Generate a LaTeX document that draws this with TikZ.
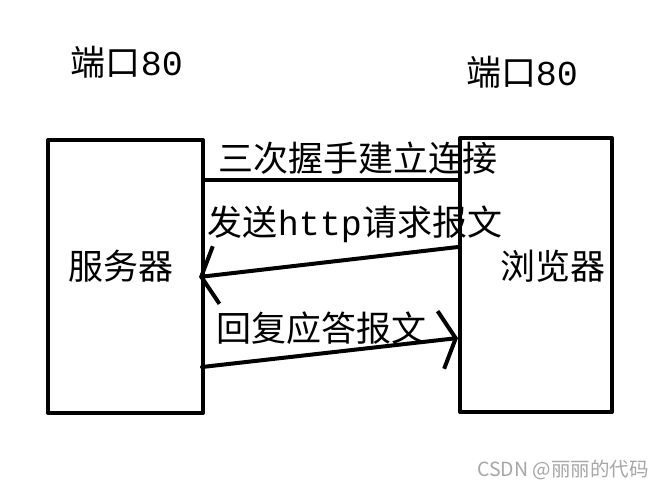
\documentclass[tikz,border=0pt]{standalone}
\usepackage{fontspec}
\setmainfont{Liberation Mono}
\newfontfamily\cjk{Noto Sans CJK SC}
\newfontfamily\wmfont{Noto Sans CJK SC}
\usetikzlibrary{arrows.meta,calc}

\begin{document}
\begin{tikzpicture}[
  x=1pt, y=-1pt,
  >={Straight Barb[length=15pt,width=58pt]},
  line cap=round,
  line join=round,
  hostbox/.style={draw, line width=4pt, inner sep=0pt},
  msg/.style={line width=4pt},
  lbl/.style={inner sep=0pt, font=\fontsize{35}{40}\selectfont}
]
  \useasboundingbox (0,0) rectangle (662,488);

  % Hosts
  \node[hostbox, minimum width=155pt, minimum height=273pt] (server) at (125.5,276.5) {};
  \node[hostbox, minimum width=152pt, minimum height=274pt] (browser) at (536,275) {};

  % Host names and ports
  \node[lbl] (serverName) at (121,266) {\cjk 服务器};
  \node[lbl] (browserName) at (553,266) {\cjk 浏览器};
  \node[lbl] (serverPort) at (127,62) {{\cjk 端口}80};
  \node[lbl] (browserPort) at (522,72) {{\cjk 端口}80};

  % Connector end points on the box sides
  \coordinate (s1) at (server.east |- 0,180);
  \coordinate (b1) at (browser.west |- 0,180);
  \coordinate (b2) at (browser.west |- 0,247);
  \coordinate (s2) at ($(server.east |- 0,277)+(-6,0)$);
  \coordinate (s3) at ($(server.east |- 0,367)+(-3,0)$);
  \coordinate (b3) at (browser.west |- 0,338);

  % Messages
  \draw[msg] (s1) -- (b1);
  \draw[msg, ->] (b2) -- (s2);
  \draw[msg, ->] (s3) -- (b3);

  % Message labels
  \node[lbl] (handshake) at (358,158) {\cjk 三次握手建立连接};
  \node[lbl] (request) at (355,224) {{\cjk 发送}http{\cjk 请求报文}};
  \node[lbl] (reply) at (321,328) {\cjk 回复应答报文};

  % Watermark
  \node[text=gray!70, font=\wmfont\fontsize{19.5}{22}\selectfont, inner sep=0pt]
    (mark) at (563,470) {CSDN @丽丽的代码};
\end{tikzpicture}
\end{document}
